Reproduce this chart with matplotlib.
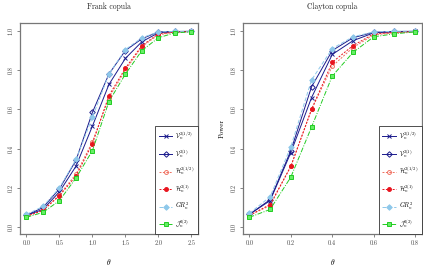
import matplotlib
matplotlib.use("Agg")
import matplotlib.pyplot as plt

plt.rcParams['font.family'] = 'cmr10'
plt.rcParams['mathtext.fontset'] = 'cm'
plt.rcParams['axes.formatter.use_mathtext'] = True

# Frank copula
theta_f = [0, 0.25, 0.5, 0.75, 1.0, 1.25, 1.5, 1.75, 2.0, 2.25, 2.5]
frank_V12 = [0.06, 0.09, 0.18, 0.31, 0.515, 0.727, 0.86, 0.945, 0.99, 0.995, 0.997]
frank_V1 = [0.06, 0.10, 0.195, 0.34, 0.585, 0.78, 0.90, 0.96, 0.995, 0.997, 0.998]
frank_H12 = [0.055, 0.085, 0.165, 0.27, 0.435, 0.66, 0.80, 0.92, 0.98, 0.993, 0.997]
frank_H1 = [0.055, 0.085, 0.16, 0.26, 0.425, 0.67, 0.81, 0.925, 0.985, 0.994, 0.997]
frank_GR = [0.065, 0.105, 0.20, 0.345, 0.56, 0.78, 0.905, 0.965, 0.995, 0.997, 0.998]
frank_J = [0.05, 0.075, 0.135, 0.25, 0.39, 0.64, 0.78, 0.90, 0.965, 0.99, 0.995]

# Clayton copula
theta_c = [0, 0.1, 0.2, 0.3, 0.4, 0.5, 0.6, 0.7, 0.8]
clay_V12 = [0.065, 0.135, 0.38, 0.66, 0.88, 0.95, 0.99, 0.995, 0.997]
clay_V1 = [0.065, 0.14, 0.39, 0.715, 0.90, 0.965, 0.993, 0.997, 0.998]
clay_H12 = [0.06, 0.11, 0.31, 0.60, 0.82, 0.915, 0.98, 0.99, 0.996]
clay_H1 = [0.06, 0.115, 0.31, 0.60, 0.84, 0.925, 0.985, 0.992, 0.997]
clay_GR = [0.07, 0.155, 0.41, 0.75, 0.91, 0.97, 0.995, 0.998, 0.998]
clay_J = [0.05, 0.09, 0.255, 0.51, 0.77, 0.89, 0.97, 0.985, 0.995]

labels = [r'$\mathcal{V}_n^{2(1/2)}$', r'$\mathcal{V}_n^{2(1)}$',
          r'$\mathcal{H}_n^{2(1/2)}$', r'$\mathcal{H}_n^{2(1)}$',
          r'$GR_n^2$', r'$\mathcal{J}_n^{2(2)}$']

styles = [
    dict(color='#1a1a8c', ls='-', marker='x', mfc='#1a1a8c', mec='#1a1a8c'),
    dict(color='#1a1a8c', ls='-', marker='D', mfc='none', mec='#1a1a8c'),
    dict(color='#f07060', ls=(0, (2, 1.5)), marker='o', mfc='none', mec='#f07060'),
    dict(color='#e8141e', ls=(0, (2, 1.5)), marker='o', mfc='#e8141e', mec='#e8141e'),
    dict(color='#8ec8ea', ls=(0, (4, 2)), marker='D', mfc='#8ec8ea', mec='#8ec8ea'),
    dict(color='#22cc22', ls=(0, (5, 1.5, 1, 1.5)), marker='s', mfc='#66ee66', mec='#22cc22'),
]

fig = plt.figure(figsize=(4.23, 2.68), dpi=100)
ax1 = fig.add_axes([0.047, 0.127, 0.421, 0.787])
ax2 = fig.add_axes([0.574, 0.127, 0.423, 0.787])

panels = [
    (ax1, theta_f, [frank_V12, frank_V1, frank_H12, frank_H1, frank_GR, frank_J],
     'Frank copula', (-0.1, 2.6), [0, 0.5, 1.0, 1.5, 2.0, 2.5]),
    (ax2, theta_c, [clay_V12, clay_V1, clay_H12, clay_H1, clay_GR, clay_J],
     'Clayton copula', (-0.032, 0.832), [0, 0.2, 0.4, 0.6, 0.8]),
]

for ax, th, series, title, xl, xt in panels:
    for ys, st, lab in zip(series, styles, labels):
        ax.plot(th, ys, lw=0.7, ms=2.8, mew=0.7, label=lab, **st)
    ax.set_xlim(*xl)
    ax.set_ylim(-0.035, 1.04)
    ax.set_xticks(xt)
    ax.set_xticklabels(['%.1f' % v for v in xt])
    ax.set_yticks([0, 0.2, 0.4, 0.6, 0.8, 1.0])
    ax.set_yticklabels(['0.0', '0.2', '0.4', '0.6', '0.8', '1.0'],
                       rotation=90, va='center')
    ax.tick_params(labelsize=4.5, length=2, width=0.5, color='#555555',
                   labelcolor='#444444', pad=2.5)
    for sp in ax.spines.values():
        sp.set_color('#777777')
        sp.set_linewidth(0.9)
    ax.set_title(title, fontsize=5.5, pad=10, color='#222222')
    ax.set_xlabel(r'$\theta$', fontsize=5.5, labelpad=8)
    leg = ax.legend(loc='lower right', borderaxespad=0, fontsize=4.5,
                    fancybox=False, framealpha=1, edgecolor='#333333',
                    handlelength=2.2, handletextpad=0.4, labelspacing=0.95,
                    borderpad=0.6)
    leg.get_frame().set_linewidth(0.6)

ax2.set_ylabel('Power', fontsize=5, labelpad=4)

fig.savefig('out.png', dpi=100)
